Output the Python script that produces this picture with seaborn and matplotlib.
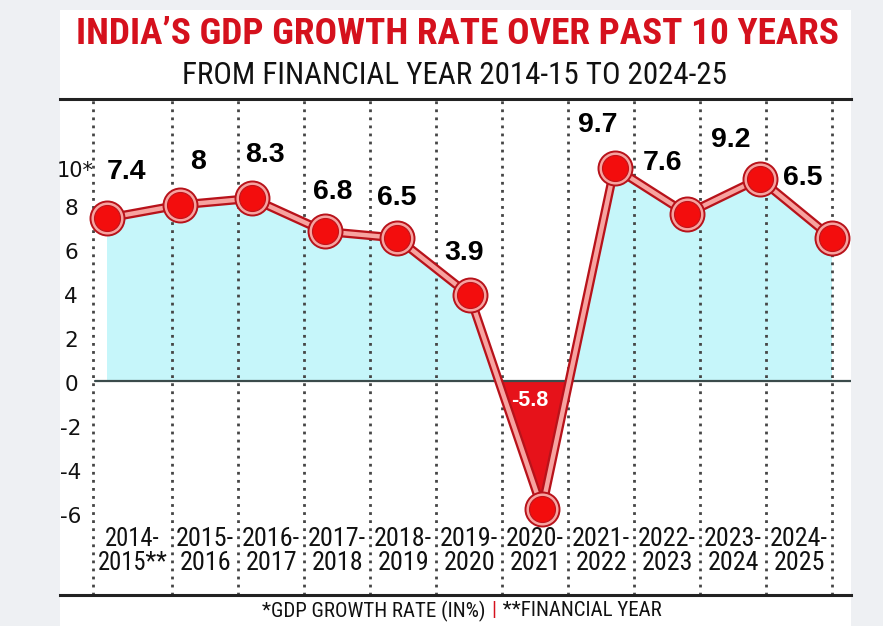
import numpy as np
import pandas as pd
import matplotlib
matplotlib.use("Agg")
import matplotlib.pyplot as plt
import seaborn as sns
from matplotlib.transforms import blended_transform_factory
from matplotlib.patches import Rectangle
import logging
logging.getLogger("matplotlib.font_manager").setLevel(logging.ERROR)

# ---------------- data ----------------
years = ["2014-\n2015**", "2015-\n2016", "2016-\n2017", "2017-\n2018", "2018-\n2019",
         "2019-\n2020", "2020-\n2021", "2021-\n2022", "2022-\n2023", "2023-\n2024",
         "2024-\n2025"]
growth = [7.4, 8.0, 8.3, 6.8, 6.5, 3.9, -5.8, 9.7, 7.6, 9.2, 6.5]
value_labels = ["7.4", "8", "8.3", "6.8", "6.5", "3.9", "-5.8", "9.7", "7.6", "9.2", "6.5"]
ytick_values = [10, 8, 6, 4, 2, 0, -2, -4, -6]
ytick_labels = ["10*", "8", "6", "4", "2", "0", "-2", "-4", "-6"]

title = "INDIA\u2019S GDP GROWTH RATE OVER PAST 10 YEARS"
subtitle = "FROM FINANCIAL YEAR 2014-15 TO 2024-25"
footer_left = "*GDP GROWTH RATE (IN%) "
footer_sep = "|"
footer_right = " **FINANCIAL YEAR"

# ---------------- style ----------------
W, H = 883, 626
NARROW = ["Roboto Condensed", "Liberation Sans Narrow", "DejaVu Sans Condensed",
          "Liberation Sans", "DejaVu Sans"]
BOLD = ["Liberation Sans", "DejaVu Sans"]
RED = "#e6121a"
DARKRED = "#b8121a"
PINK = "#f7a3a0"
CYAN = "#c6f6fa"
# label offsets in pixels (dx right, dy down) relative to each marker
label_offsets = [(20, -46), (19, -43), (13, -43), (8, -39), (0, -40), (-5, -42),
                 (-12, -108), (-17, -43), (-25, -51), (-29, -39), (-29, -60)]

sns.set_style("white")
plt.rcParams["font.family"] = ["DejaVu Sans"]

fig = plt.figure(figsize=(W / 100, H / 100), dpi=100)
fig.patch.set_facecolor("#eef0f3")
fig.patches.append(Rectangle((60 / W, 0), (851 - 60) / W, (626 - 10) / H,
                             transform=fig.transFigure, facecolor="white",
                             edgecolor="none", zorder=-10))

ax = fig.add_axes([60 / W, (H - 595) / H, (851 - 60) / W, (595 - 99) / H])
ax.set_facecolor("none")

idx = np.arange(len(growth))
g = np.array(growth)
df = pd.DataFrame({"x": idx, "growth": g})

px_per_x = 72.5
px_per_y = 22.0
ax.set_xlim((60 - 107) / px_per_x, (851 - 107) / px_per_x)
ax.set_ylim((381 - 595) / px_per_y, (381 - 99) / px_per_y)

# area fills
ax.fill_between(idx, g, 0, where=g >= 0, interpolate=True, color=CYAN, lw=0, zorder=1)
ax.fill_between(idx, g, 0, where=g <= 0, interpolate=True, color=RED, lw=0, zorder=1)

# column separators (dotted)
first_edge = (93 - 107) / px_per_x
edges = [first_edge] + list(np.linspace(0.9, idx[-1], len(years)))
for e in edges:
    ax.axvline(e, color="#454545", ls=(0, (1.0, 1.9)), lw=2.0, zorder=2)

# zero line
ax.axhline(0, xmin=(95 - 60) / (851 - 60), xmax=1, color="#3b4b4b", lw=1.6, zorder=2)

# line (double stroke)
sns.lineplot(data=df, x="x", y="growth", ax=ax, color=DARKRED, lw=6.5, zorder=3,
             solid_capstyle="round")
sns.lineplot(data=df, x="x", y="growth", ax=ax, color=PINK, lw=3.2, zorder=4,
             solid_capstyle="round")

# markers
sns.scatterplot(data=df, x="x", y="growth", ax=ax, s=600, color=PINK,
                edgecolor=DARKRED, linewidth=1.4, zorder=5)
sns.scatterplot(data=df, x="x", y="growth", ax=ax, s=350, color="#f30d0d",
                edgecolor="#c0141a", linewidth=0.8, zorder=6)

# value labels
for i, (v, lab) in enumerate(zip(growth, value_labels)):
    dx, dy = label_offsets[i]
    if v < 0:
        ax.annotate(lab, (i, v), xytext=(dx * 0.72, -dy * 0.72), textcoords="offset points",
                    ha="center", va="center", fontsize=15.5, fontweight="bold",
                    color="white", family=BOLD, zorder=7)
    else:
        ax.annotate(lab, (i, v), xytext=(dx * 0.72, -dy * 0.72), textcoords="offset points",
                    ha="center", va="center", fontsize=20.5, fontweight="bold",
                    color="black", family=BOLD, zorder=7)

fig.canvas.draw()
renderer = fig.canvas.get_renderer()


def fit_width(t, target_px):
    bb = t.get_window_extent(renderer=renderer)
    if bb.width > target_px:
        t.set_fontsize(t.get_fontsize() * target_px / bb.width)


# x category labels inside the plot area
for i, lab in enumerate(years):
    cx = (edges[i] + edges[i + 1]) / 2
    t = ax.text(cx, (381 - 551) / px_per_y, lab, ha="center", va="center",
                fontsize=20, family=NARROW, fontstretch="condensed",
                color="#111111", linespacing=1.0, zorder=7)
    fit_width(t, 70 if i == 0 else 58)

# y labels
ax.set_xticks([])
ax.set_yticks([])
ax.set_xlabel("")
ax.set_ylabel("")
tr = blended_transform_factory(fig.transFigure, ax.transData)
for v, lab in zip(ytick_values, ytick_labels):
    if lab.endswith("*"):
        ax.text(94 / W, v - 0.45, lab, transform=tr, ha="right", va="center",
                fontsize=15, color="#111111", family=["DejaVu Sans"])
    else:
        ax.text(71 / W, v - 0.2, lab, transform=tr, ha="center", va="center",
                fontsize=15.5, color="#111111", family=["DejaVu Sans"])

# spines
for s in ["left", "right"]:
    ax.spines[s].set_visible(False)
for s in ["top", "bottom"]:
    ax.spines[s].set_visible(True)
    ax.spines[s].set_color("#222222")
    ax.spines[s].set_linewidth(2.2)

# titles
t1 = fig.text(457 / W, 1 - 34 / H, title, ha="center", va="center", color="#d5111d",
              fontsize=29, fontweight="bold", family=NARROW, fontstretch="condensed")
fit_width(t1, 762)
t2 = fig.text(455 / W, 1 - 75 / H, subtitle, ha="center", va="center", color="#111111",
              fontsize=23, family=NARROW, fontstretch="condensed")
fit_width(t2, 548)

# footer
fs_foot = 15
tl = fig.text(0, 0, footer_left + footer_sep + footer_right, fontsize=fs_foot,
              family=NARROW, fontstretch="condensed")
bb = tl.get_window_extent(renderer=renderer)
scale = min(1.0, 415 / bb.width)
tl.remove()
fs_foot *= scale
fig.text(490 / W, 1 - 611 / H, footer_left, ha="right", va="center", color="#111111",
         fontsize=fs_foot, family=NARROW, fontstretch="condensed")
fig.text(494 / W, 1 - 611 / H, footer_sep, ha="center", va="center", color="#d5111d",
         fontsize=fs_foot, family=NARROW, fontstretch="condensed")
fig.text(498 / W, 1 - 611 / H, footer_right, ha="left", va="center", color="#111111",
         fontsize=fs_foot, family=NARROW, fontstretch="condensed")

fig.savefig("out.png", dpi=100, facecolor=fig.get_facecolor())
